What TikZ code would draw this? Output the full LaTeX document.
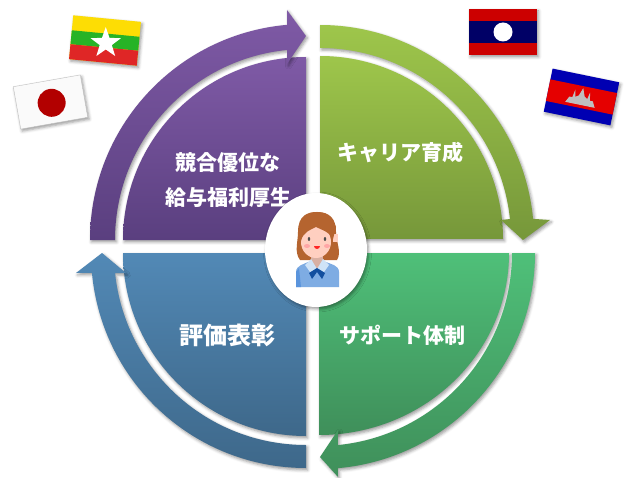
\documentclass[tikz,border=0pt]{standalone}
\usepackage{fontspec}
\newfontfamily\jpfont{Noto Sans CJK JP}
\usetikzlibrary{shapes,calc,shadows.blur}
\begin{document}
\begin{tikzpicture}[x=1pt,y=1pt,
    softshadow/.style={blur shadow={shadow xshift=1.5pt,shadow yshift=-2pt,shadow blur radius=3pt,shadow opacity=40}},
    purplefill/.style={top color=purpletop,bottom color=purplebot,draw=none},
    limefill/.style={top color=limetop,bottom color=limebot,draw=none},
    greenfill/.style={top color=greentop,bottom color=greenbot,draw=none},
    bluefill/.style={top color=bluetop,bottom color=bluebot,draw=none},
    label/.style={text=white,font=\jpfont\bfseries\fontsize{21}{21}\selectfont,inner sep=0pt}]
    \definecolor{purpletop}{HTML}{7F5AA6}
    \definecolor{purplebot}{HTML}{5A3F7F}
    \definecolor{limetop}{HTML}{9EC64B}
    \definecolor{limebot}{HTML}{76973A}
    \definecolor{greentop}{HTML}{4FC079}
    \definecolor{greenbot}{HTML}{3F8F5A}
    \definecolor{bluetop}{HTML}{5289B6}
    \definecolor{bluebot}{HTML}{3E688A}
    \definecolor{hair}{HTML}{B5642F}
    \definecolor{skin}{HTML}{FFCFC0}
    \definecolor{shirt}{HTML}{7EACE3}
    \definecolor{shirtdark}{HTML}{5A94DC}
    \definecolor{collar}{HTML}{CFE3F7}
    \definecolor{bow}{HTML}{124F9F}
    \useasboundingbox (0,0) rectangle (631,477);
    %Locations%
    %===========================================================
    \coordinate (origo_p) at (306,237); %Center of purple part
    \coordinate (origo_l) at (320,238); %Center of lime part
    \coordinate (origo_g) at (319,224); %Center of green part
    \coordinate (origo_b) at (306,224); %Center of blue part
    \def \Rpart {183} %Radius of the four parts
    \def \Rout {216} %Outer radius of arrows
    \def \Rin {191} %Inner radius of arrows
    %Four parts%
    %===========================================================
    \draw[purplefill,softshadow] (origo_p) -- ++(180:\Rpart) arc[start angle=180,end angle=90,radius=\Rpart] -- cycle;
    \draw[limefill,softshadow] (origo_l) -- ++(0:\Rpart) arc[start angle=0,end angle=90,radius=\Rpart] -- cycle;
    \draw[greenfill,softshadow] (origo_g) -- ++(0:190) arc[start angle=0,end angle=-90,x radius=190,y radius=182] -- cycle;
    \draw[bluefill,softshadow] (origo_b) -- ++(180:\Rpart) arc[start angle=180,end angle=270,radius=\Rpart] -- cycle;
    %Arrows%
    %===========================================================
    \draw[purplefill,softshadow] (origo_p) ++(180:\Rout) arc[start angle=180,end angle=95,radius=\Rout]
        -- (287,467) -- (306,441) -- (287,413) -- ($(origo_p)+(95.7:\Rin)$)
        arc[start angle=95.7,end angle=180,radius=\Rin] -- cycle; %Purple arrow
    \draw[limefill,softshadow] (origo_l) ++(90:214) arc[start angle=90,end angle=5.4,radius=214]
        -- (550,257) -- (523,237) -- (501,257) -- ($(origo_l)+(6:\Rin)$)
        arc[start angle=6,end angle=90,radius=\Rin] -- cycle; %Lime arrow
    \draw[greenfill,softshadow] (origo_g) ++(0:\Rout) arc[start angle=0,end angle=-85,radius=\Rout]
        -- (338,0) -- (320,20) -- (338,47) -- ($(origo_g)+(-84.4:193)$)
        arc[start angle=-84.4,end angle=0,radius=193] -- cycle; %Green arrow
    \draw[bluefill,softshadow] (origo_b) ++(270:215) arc[start angle=270,end angle=185.3,radius=215]
        -- (76,204) -- (102,224) -- (126,204) -- ($(origo_b)+(186:192)$)
        arc[start angle=186,end angle=270,radius=192] -- cycle; %Blue arrow
    %Labels%
    %===========================================================
    \node[label] (pay_a) at (228,314) {競合優位な};
    \node[label] (pay_b) at (228,279) {給与福利厚生};
    \node[label] (career) at (400,324) {キャリア育成};
    \node[label,font=\jpfont\bfseries\fontsize{24}{24}\selectfont] (award) at (227,142) {評価表彰};
    \node[label] (support) at (402,142) {サポート体制};
    %Center circle and person%
    %===========================================================
    \fill[white,softshadow] (316,227) ellipse[x radius=51,y radius=57];
    \fill[hair] (300,217) .. controls (294,225) and (298,235) .. (298,245) .. controls (298,262) and (308,265) .. (317,265)
        .. controls (330,265) and (336,258) .. (336,245) .. controls (336,235) and (342,225) .. (337,217) -- cycle; %Hair back
    \fill[shirt] (296,190) -- (296,205) .. controls (296,212) and (305,213) .. (308,215) -- (326,215)
        .. controls (330,213) and (339,212) .. (339,205) -- (339,190) -- cycle; %Shirt
    \fill[shirtdark] (296,190) -- (296,205) -- (299,209) -- (301,190) -- cycle;
    \fill[skin!85!black] (311,208) rectangle (323,222); %Neck
    \fill[collar] (305,212) -- (311,218) -- (317,208) -- (310,205) -- cycle; %Collar
    \fill[collar] (329,212) -- (323,218) -- (317,208) -- (324,205) -- cycle;
    \fill[bow] (317,209) -- (309,204) -- (312,198) -- (317,205) -- (322,198) -- (325,204) -- cycle; %Bow
    \fill[skin] (316,235) ellipse[x radius=15,y radius=16]; %Face
    \fill[skin] (333,235) rectangle (338,243); %Ear
    \fill[hair] (301,236) .. controls (303,245) and (310,247) .. (316,250) .. controls (322,247) and (330,245) .. (333,238)
        -- (336,250) .. controls (332,262) and (324,265) .. (317,265) .. controls (308,265) and (301,260) .. (299,250) -- cycle; %Fringe
    \fill[black!70] (309,238) ellipse[x radius=1.2,y radius=2]; %Eyes
    \fill[black!70] (325,238) ellipse[x radius=1.2,y radius=2];
    \fill[red!35] (307,231) ellipse[x radius=3,y radius=2]; %Cheeks
    \fill[red!35] (327,231) ellipse[x radius=3,y radius=2];
    \fill[red!85] (314,231) arc[start angle=180,end angle=360,radius=3] -- cycle; %Mouth
    %Flags%
    %===========================================================
    \begin{scope}[shift={(105,436.5)},rotate=-5.5] %Myanmar
        \fill[softshadow,yellow!80!orange] (-34,-22) rectangle (34,22);
        \fill[green!65!black!85] (-34,-7) rectangle (34,7);
        \fill[red!85!black!85] (-34,-22) rectangle (34,-7);
        \node[star,star points=5,star point ratio=2.5,fill=white,inner sep=0pt,minimum size=32pt] (mm_star) at (1,-2.5) {};
    \end{scope}
    \begin{scope}[shift={(50.5,375)},rotate=10] %Japan
        \fill[softshadow,black!2] (-34,-21.5) rectangle (34,21.5);
        \draw[black!25,thin] (-34,-21.5) rectangle (34,21.5);
        \fill[red!70!black] (1,-1) circle[radius=14];
    \end{scope}
    \begin{scope}[shift={(503,445)}] %Laos
        \fill[softshadow,red!80!black] (-34,-23) rectangle (34,23);
        \fill[blue!40!black] (-34,-11) rectangle (34,11);
        \fill[white] (0,0) circle[radius=9.5];
    \end{scope}
    \begin{scope}[shift={(581.5,380)},rotate=-11.6] %Cambodia
        \fill[softshadow,blue!70!black] (-34,-22) rectangle (34,22);
        \fill[red!90!black] (-34,-11) rectangle (34,11);
        \fill[black!25] (-15,-8) -- (-12,-2) -- (-9,-2) -- (-7.5,6) -- (-6,-1) -- (-3,1) -- (0,9) -- (3,1) -- (6,-1) -- (7.5,6) -- (9,-2) -- (12,-2) -- (15,-8) -- cycle; %Temple
    \end{scope}
\end{tikzpicture}
\end{document}
